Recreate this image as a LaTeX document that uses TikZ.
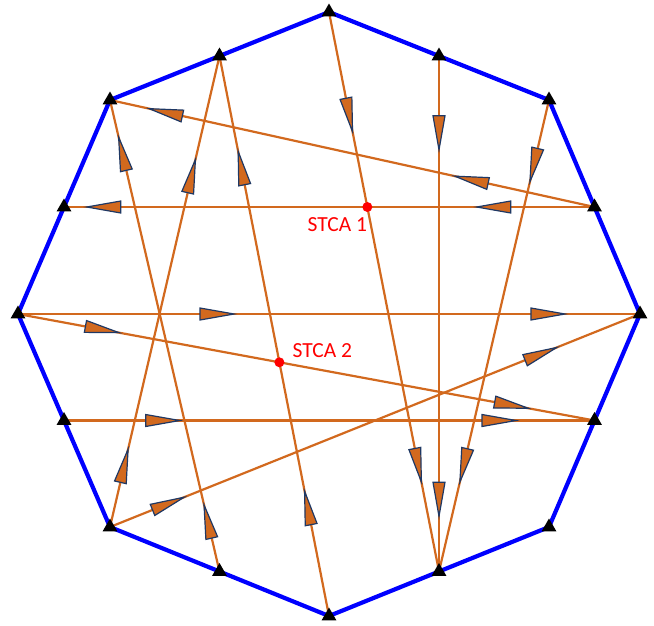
\documentclass[tikz,border=0pt]{standalone}
\usepackage{fontspec}
\setmainfont{Carlito}
\usepackage{tikz}
\usetikzlibrary{calc,shapes.geometric,decorations.markings}
\definecolor{trackorange}{RGB}{210,105,30}
\definecolor{marknavy}{RGB}{31,56,100}

\begin{document}
\begin{tikzpicture}[x=1pt,y=-1pt,
  rim/.style={draw=blue,line width=4.2pt,line join=round},
  track/.style={draw=trackorange,line width=2.2pt},
  tip/.style={draw=marknavy,fill=trackorange,line width=1.2pt,line join=miter},
  flow/.style 2 args={postaction={decorate,decoration={markings,
    mark=at position #1 with {\filldraw[tip] (17,0) -- (-17,6) -- (-17,-6) -- cycle;},
    mark=at position #2 with {\filldraw[tip] (17,0) -- (-17,6) -- (-17,-6) -- cycle;}}}},
  vtx/.style={regular polygon,regular polygon sides=3,fill=black,inner sep=0pt,minimum size=17pt},
  conflict/.style={circle,fill=red,inner sep=0pt,minimum size=10pt},
  tag/.style={text=red,inner sep=0pt,font=\fontsize{21.5}{25}\selectfont}]
\useasboundingbox (0,0) rectangle (654,625);

\coordinate (n) at (329,12);
\coordinate (ne) at (549,100);
\coordinate (e) at (640,314);
\coordinate (se) at (549,527);
\coordinate (s) at (329,616);
\coordinate (sw) at (110,527);
\coordinate (w) at (18,314);
\coordinate (nw) at (110,100);
\coordinate (nne) at ($(n)!0.5!(ne)$);
\coordinate (ene) at ($(ne)!0.5!(e)$);
\coordinate (ese) at ($(e)!0.5!(se)$);
\coordinate (sse) at ($(se)!0.5!(s)$);
\coordinate (ssw) at ($(s)!0.5!(sw)$);
\coordinate (wsw) at ($(sw)!0.5!(w)$);
\coordinate (wnw) at ($(w)!0.5!(nw)$);
\coordinate (nnw) at ($(nw)!0.5!(n)$);

\draw[rim] (n) -- (ne) -- (e) -- (se) -- (s) -- (sw) -- (w) -- (nw) -- cycle;

\draw[track,flow={0.254}{0.885}] (ene) -- (nw);
\draw[track,flow={0.19}{0.925}] (ene) -- (wnw);
\draw[track,flow={0.184}{0.81}] (n) -- (sse);
\draw[track,flow={0.149}{0.86}] (nne) -- (sse);
\draw[track,flow={0.138}{0.775}] (ne) -- (sse);
\draw[track,flow={0.13}{0.745}] (sw) -- (nnw);
\draw[track,flow={0.193}{0.8}] (s) -- (nnw);
\draw[track,flow={0.106}{0.886}] (ssw) -- (nw);
\draw[track,flow={0.32}{0.852}] (w) -- (e);
\draw[track,flow={0.146}{0.856}] (w) -- (ese);
\draw[track,flow={0.186}{0.82}] (wsw) -- (ese);
\draw[track,flow={0.11}{0.813}] (sw) -- (e);

\foreach \v in {n,nne,ne,ene,e,ese,se,sse,s,ssw,sw,wsw,w,wnw,nw,nnw}
  \node[vtx] (tri-\v) at (\v) {};

\node[conflict] (stca1) at (intersection of n--sse and ene--wnw) {};
\node[conflict] (stca2) at (intersection of s--nnw and w--ese) {};
\node[tag,anchor=base east] (stca1-text) at ($(stca1)+(0,24)$) {STCA 1};
\node[tag,anchor=base west] (stca2-text) at ($(stca2)+(13,-5)$) {STCA 2};
\end{tikzpicture}
\end{document}
